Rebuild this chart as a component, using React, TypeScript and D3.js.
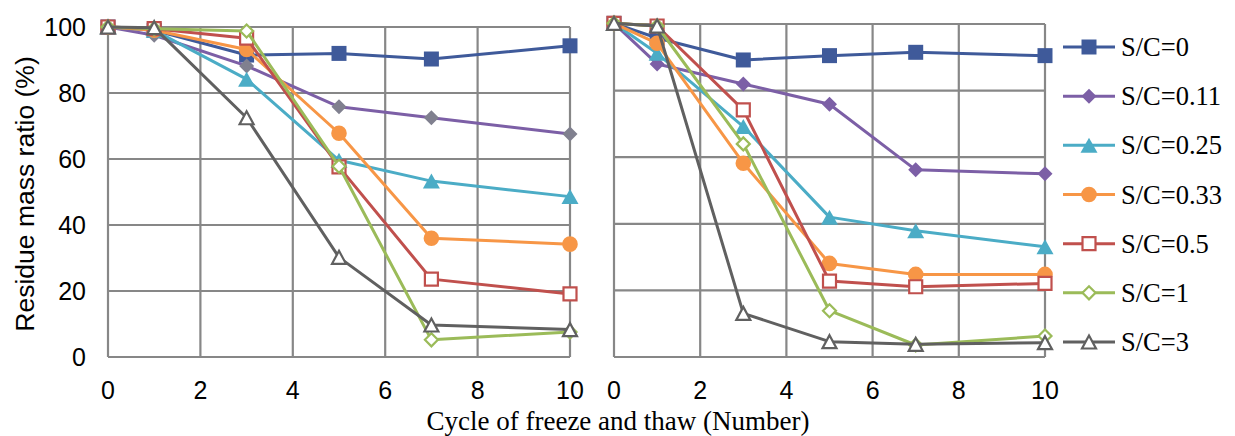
import React from 'react';
import * as d3 from 'd3';

// freeze-thaw cycles
const cycles = [0, 1, 3, 5, 7, 10];

const seriesNames = ['S/C=0', 'S/C=0.11', 'S/C=0.25', 'S/C=0.33', 'S/C=0.5', 'S/C=1', 'S/C=3'];

// left panel values (%)
const leftSC0 = [100, 99, 91.5, 92, 90.3, 94.3];
const leftSC011 = [100, 97.5, 88.2, 75.8, 72.5, 67.6];
const leftSC025 = [100, 99, 84.2, 59.6, 53.3, 48.6];
const leftSC033 = [100, 99, 93.2, 67.8, 36, 34.2];
const leftSC05 = [100, 99.5, 96.6, 57.6, 23.6, 19.1];
const leftSC1 = [100, 99.5, 98.8, 57.8, 5.2, 7.6];
const leftSC3 = [100, 99.8, 72.5, 30.2, 9.7, 8.3];

// right panel values (%)
const rightSC0 = [100.2, 95.8, 89.2, 90.5, 91.5, 90.5];
const rightSC011 = [100.2, 88, 82, 75.9, 56.2, 55];
const rightSC025 = [100.2, 91.2, 69.2, 42, 37.9, 33.1];
const rightSC033 = [100.2, 94.2, 58.2, 28.1, 24.8, 24.8];
const rightSC05 = [100.2, 99.4, 74.2, 22.8, 21.1, 22.1];
const rightSC1 = [100.2, 99.4, 64, 13.9, 3.6, 6.3];
const rightSC3 = [100.2, 99.4, 13.1, 4.6, 3.8, 4.3];

const xTicks = [0, 2, 4, 6, 8, 10];
const yTicks = [0, 20, 40, 60, 80, 100];

const leftData = [leftSC0, leftSC011, leftSC025, leftSC033, leftSC05, leftSC1, leftSC3];
const rightData = [rightSC0, rightSC011, rightSC025, rightSC033, rightSC05, rightSC1, rightSC3];

type Style = { line: string; marker: string; shape: string; filled: boolean };
const styles: Style[] = [
  { line: '#3F5A9A', marker: '#3F5A9A', shape: 'square', filled: true },
  { line: '#7C5FA6', marker: '#7C5FA6', shape: 'diamond', filled: true },
  { line: '#4BACC6', marker: '#4BACC6', shape: 'triangle', filled: true },
  { line: '#F79646', marker: '#F79646', shape: 'circle', filled: true },
  { line: '#C0504D', marker: '#C0504D', shape: 'square', filled: false },
  { line: '#9BBB59', marker: '#9BBB59', shape: 'diamond', filled: false },
  { line: '#606060', marker: '#606060', shape: 'triangle', filled: false },
];

const gridColor = '#878787';
const SANS = "'Liberation Sans', Arial, sans-serif";
const SERIF = "'Liberation Serif', 'Times New Roman', Times, serif";

function markerPath(shape: string, filled: boolean): string {
  const s = filled ? 7.5 : 6.5;
  if (shape === 'square') return `M${-s},${-s}H${s}V${s}H${-s}Z`;
  if (shape === 'diamond') return `M0,${-s}L${s},0L0,${s}L${-s},0Z`;
  if (shape === 'triangle') {
    const w = filled ? 8.5 : 7;
    const h = filled ? 7.5 : 6.5;
    return `M0,${-h}L${w},${h}L${-w},${h}Z`;
  }
  const p = d3.path();
  p.arc(0, 0, 7.8, 0, Math.PI * 2);
  return p.toString();
}

function Marker({ x, y, st, fillOverride }: { x: number; y: number; st: Style; fillOverride?: string }) {
  const col = fillOverride || st.marker;
  return (
    <path
      d={markerPath(st.shape, st.filled)}
      transform={`translate(${x},${y})`}
      fill={st.filled ? col : '#fff'}
      stroke={col}
      strokeWidth={st.filled ? 0 : 2.2}
    />
  );
}

function Panel({ data, x0, x1, yTop, showY, diamondColor }: { data: number[][]; x0: number; x1: number; yTop: number; showY: boolean; diamondColor?: string }) {
  const x = d3.scaleLinear().domain([0, 10]).range([x0, x1]);
  const y = d3.scaleLinear().domain([0, 100]).range([357, yTop]);
  const line = d3
    .line<number>()
    .x((_, i) => x(cycles[i]))
    .y((d) => y(d));
  return (
    <g>
      {xTicks.map((t) => (
        <line key={'vx' + t} x1={x(t)} x2={x(t)} y1={y(0)} y2={y(100)} stroke={gridColor} strokeWidth={2.2} />
      ))}
      {yTicks.map((t) => (
        <line key={'hy' + t} x1={x(0)} x2={x(10)} y1={y(t)} y2={y(t)} stroke={gridColor} strokeWidth={2.2} />
      ))}
      {xTicks.map((t) => (
        <text key={'tx' + t} x={x(t)} y={399} textAnchor="middle" style={{ fontFamily: SANS }} fontSize={25} fill="#000">
          {t}
        </text>
      ))}
      {showY &&
        yTicks.map((t) => (
          <text key={'ty' + t} x={x(0) - 22} y={y(t)} dy="0.36em" textAnchor="end" style={{ fontFamily: SANS }} fontSize={25} fill="#000">
            {t}
          </text>
        ))}
      {data.map((vals, si) => (
        <g key={'s' + si}>
          <path d={line(vals) || ''} fill="none" stroke={styles[si].line} strokeWidth={3} strokeLinejoin="round" />
          {vals.map((v, i) => (
            <Marker key={i} x={x(cycles[i])} y={y(v)} st={styles[si]} fillOverride={si === 1 ? diamondColor : undefined} />
          ))}
        </g>
      ))}
    </g>
  );
}

export default function App() {
  const legendY = d3.scaleLinear().domain([0, 6]).range([47, 342]);
  return (
    <svg width={1235} height={436} style={{ position: 'absolute', left: 0, top: 0, background: '#fff' }}>
      <rect width={1235} height={436} fill="#fff" />
      <Panel data={leftData} x0={108} x1={570} yTop={27} showY={true} diamondColor="#80808F" />
      <Panel data={rightData} x0={614} x1={1045} yTop={24} showY={false} />
      <text transform="translate(34,194) rotate(-90)" textAnchor="middle" style={{ fontFamily: SANS }} fontSize={26.5} fill="#000">
        Residue mass ratio (%)
      </text>
      <text x={618} y={430} textAnchor="middle" style={{ fontFamily: SERIF }} fontSize={27} fill="#000">
        Cycle of freeze and thaw (Number)
      </text>
      {seriesNames.map((name, i) => {
        const ly = legendY(i);
        return (
          <g key={name}>
            <line x1={1063} x2={1115} y1={ly} y2={ly} stroke={styles[i].line} strokeWidth={3} />
            <Marker x={1089} y={ly} st={styles[i]} />
            <text x={1121} y={ly} dy="0.34em" style={{ fontFamily: SERIF }} fontSize={26.5} fill="#000">
              {name}
            </text>
          </g>
        );
      })}
    </svg>
  );
}
